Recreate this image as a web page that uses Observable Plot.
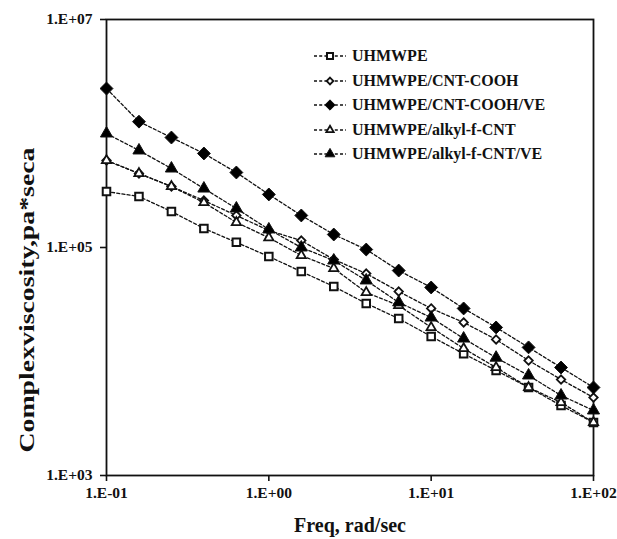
<!DOCTYPE html>
<html>
<head>
<meta charset="utf-8">
<script src="https://cdn.jsdelivr.net/npm/d3@7"></script>
<script src="https://cdn.jsdelivr.net/npm/@observablehq/plot@0.6"></script>
<style>
  html, body { margin: 0; padding: 0; background: #fff; }
  #wrap { position: relative; width: 617px; height: 539px; font-family: "Liberation Serif", "Times New Roman", serif; color: #111; }
  #legend { position: absolute; left: 312px; top: 44px; font-weight: bold; font-size: 16px; }
  .item { display: flex; align-items: center; height: 24.5px; white-space: nowrap; }
  .item svg { margin-right: 4px; }
  #ytitle { position: absolute; left: 27px; top: 300px; font-weight: bold; font-size: 20px; white-space: nowrap;
            transform: translate(-50%, -50%) rotate(-90deg) scaleX(1.39); }
</style>
</head>
<body>
<div id="wrap"><div id="legend"></div><div id="ytitle"></div></div>
<script>
const freq = [0.1, 0.1585, 0.2512, 0.3981, 0.631, 1, 1.585, 2.512, 3.981, 6.31, 10, 15.85, 25.12, 39.81, 63.1, 100];

const seriesNames = ["UHMWPE", "UHMWPE/CNT-COOH", "UHMWPE/CNT-COOH/VE", "UHMWPE/alkyl-f-CNT", "UHMWPE/alkyl-f-CNT/VE"];

const uhmwpe = [3.10e5, 2.80e5, 2.07e5, 1.47e5, 1.11e5, 8.34e4, 6.15e4, 4.55e4, 3.23e4, 2.38e4, 1.66e4, 1.17e4, 8.34e3, 5.92e3, 4.11e3, 2.92e3];
const cntCooh = [5.80e5, 4.46e5, 3.43e5, 2.58e5, 1.91e5, 1.41e5, 1.15e5, 7.85e4, 5.91e4, 4.11e4, 2.92e4, 2.20e4, 1.56e4, 1.02e4, 6.95e3, 4.83e3];
const cntCoohVe = [2.48e6, 1.27e6, 9.22e5, 6.68e5, 4.55e5, 2.92e5, 1.91e5, 1.30e5, 9.60e4, 6.28e4, 4.46e4, 2.92e4, 1.99e4, 1.33e4, 8.86e3, 5.92e3];
const alkyl = [5.80e5, 4.46e5, 3.43e5, 2.48e5, 1.66e5, 1.22e5, 8.51e4, 6.55e4, 4.03e4, 3.10e4, 1.99e4, 1.30e4, 8.86e3, 5.92e3, 4.37e3, 2.92e3];
const alkylVe = [1.00e6, 7.10e5, 4.93e5, 3.29e5, 2.20e5, 1.44e5, 1.00e5, 7.69e4, 5.14e4, 3.30e4, 2.43e4, 1.59e4, 1.08e4, 7.54e3, 5.03e3, 3.72e3];

const xTicks = [0.1, 1, 10, 100];
const xTickLabels = ["1.E-01", "1.E+00", "1.E+01", "1.E+02"];
const yTicks = [1e3, 1e5, 1e7];
const yTickLabels = ["1.E+03", "1.E+05", "1.E+07"];

const xTitle = "Freq, rad/sec";
const yTitle = "Complexviscosity,pa*seca";

const styles = [
  {symbol: "square2", fill: "white", r: 4.8, sw: 2},
  {symbol: "diamond2", fill: "white", r: 3.8, sw: 1.8},
  {symbol: "diamond2", fill: "black", r: 5.8, sw: 1},
  {symbol: "triangle2", fill: "white", r: 4.4, sw: 1.8},
  {symbol: "triangle", fill: "black", r: 4.5, sw: 1}
];
const allSeries = [uhmwpe, cntCooh, cntCoohVe, alkyl, alkylVe];

const rows = allSeries.map((vals, i) => vals.map((v, j) => ({series: seriesNames[i], f: freq[j], v})));

const font = {fontFamily: "Liberation Serif", fontWeight: "bold"};
const fmtX = d => xTickLabels[xTicks.findIndex(t => Math.abs(Math.log10(t) - Math.log10(d)) < 1e-6)];
const fmtY = d => yTickLabels[yTicks.findIndex(t => Math.abs(Math.log10(t) - Math.log10(d)) < 1e-6)];

const marks = [];
rows.forEach(r => {
  marks.push(Plot.line(r, {x: "f", y: "v", stroke: "#111", strokeWidth: 1.3, strokeDasharray: "3,2.2"}));
});
rows.forEach((r, i) => {
  const s = styles[i];
  marks.push(Plot.dot(r, {x: "f", y: "v", symbol: () => s.symbol, fill: s.fill, stroke: "#111", strokeWidth: s.sw, r: s.r}));
});

const chart = Plot.plot({
  width: 617,
  height: 539,
  marginLeft: 106,
  marginRight: 24,
  marginTop: 19,
  marginBottom: 64,
  style: {fontFamily: "Liberation Serif", fontWeight: "bold", fontSize: "16px", color: "#111", background: "white", overflow: "visible"},
  symbol: {type: "identity"},
  x: {type: "log", domain: [0.1, 100]},
  y: {type: "log", domain: [1e3, 1e7]},
  marks: [
    Plot.frame({stroke: "#111", strokeWidth: 1.8}),
    Plot.axisX({ticks: xTicks, tickFormat: fmtX, tickSize: 6, tickPadding: 5, strokeWidth: 1.6, label: null, fontSize: 15.5, ...font}),
    Plot.axisY({ticks: yTicks, tickFormat: fmtY, tickSize: 6, tickPadding: 8, strokeWidth: 1.6, label: null, fontSize: 15.5, ...font}),
    ...marks,
    Plot.text([xTitle], {text: d => d, frameAnchor: "bottom", dy: 56, fontSize: 20, ...font})
  ]
});
document.getElementById("wrap").prepend(chart);
document.getElementById("ytitle").textContent = yTitle;

const legend = d3.select("#legend");
seriesNames.forEach((name, i) => {
  const s = styles[i];
  const item = legend.append("div").attr("class", "item");
  const svg = item.append("svg").attr("width", 36).attr("height", 16);
  svg.append("line").attr("x1", 2).attr("x2", 34).attr("y1", 8).attr("y2", 8)
    .attr("stroke", "#111").attr("stroke-width", 1.3).attr("stroke-dasharray", "3,2.2");
  const sym = {square2: d3.symbolSquare2, diamond2: d3.symbolDiamond2, triangle2: d3.symbolTriangle2, triangle: d3.symbolTriangle}[s.symbol];
  const rr = s.r * 0.8;
  svg.append("path").attr("transform", "translate(18,8)")
    .attr("d", d3.symbol(sym, Math.PI * rr * rr)())
    .attr("fill", s.fill).attr("stroke", "#111").attr("stroke-width", s.sw);
  item.append("span").text(name);
});
</script>
</body>
</html>
